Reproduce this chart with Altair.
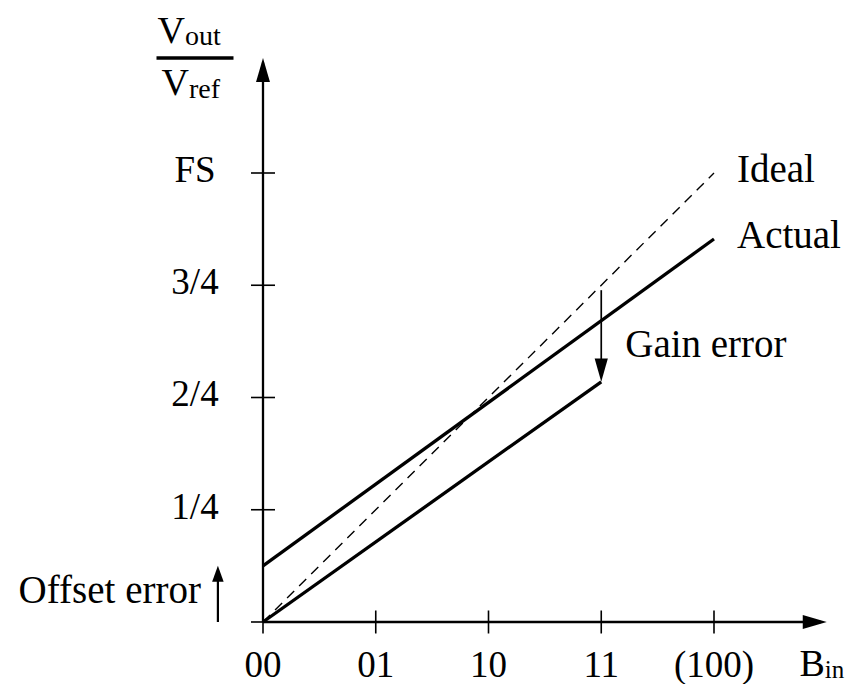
import altair as alt
import pandas as pd

FONT = "Liberation Serif"

# ---- data ----
x_codes = ["00", "01", "10", "11", "(100)"]
x_steps = [0, 1, 2, 3, 4]
y_labels = ["1/4", "2/4", "3/4", "FS"]
y_levels = [0.25, 0.5, 0.75, 1.0]

ideal_x = [0, 4]
ideal_y = [0.0, 1.0]
actual_x = [0, 4]
actual_y = [0.125, 0.853]
shifted_x = [0, 3]
shifted_y = [0.0, 0.535]

gain_x = 3
gain_from = 0.739
gain_to = 0.535
offset_x = -0.4
offset_from = 0.0
offset_to = 0.125

x_axis_end = 5.0
y_axis_end = 1.256

X_DOM = [-2.3326, 5.2151]
Y_DOM = [-0.1381, 1.3853]


def X(field="x"):
    return alt.X(f"{field}:Q", scale=alt.Scale(domain=X_DOM, nice=False, zero=False), axis=None)


def Y(field="y"):
    return alt.Y(f"{field}:Q", scale=alt.Scale(domain=Y_DOM, nice=False, zero=False), axis=None)


layers = []

# lines
layers.append(alt.Chart(pd.DataFrame({"x": ideal_x, "y": ideal_y})).mark_line(
    color="black", strokeWidth=1.4, strokeDash=[10, 7]).encode(x=X(), y=Y()))
layers.append(alt.Chart(pd.DataFrame({"x": actual_x, "y": actual_y})).mark_line(
    color="black", strokeWidth=3.3).encode(x=X(), y=Y()))
layers.append(alt.Chart(pd.DataFrame({"x": shifted_x, "y": shifted_y})).mark_line(
    color="black", strokeWidth=3.3).encode(x=X(), y=Y()))

# axes
layers.append(alt.Chart(pd.DataFrame({"x": [0], "x2": [x_axis_end - 0.05], "y": [0]})).mark_rule(
    color="black", strokeWidth=2.3).encode(x=X(), x2="x2:Q", y=Y()))
layers.append(alt.Chart(pd.DataFrame({"x": [0], "y": [0], "y2": [y_axis_end - 0.01]})).mark_rule(
    color="black", strokeWidth=2.3).encode(x=X(), y=Y(), y2="y2:Q"))

# ticks
layers.append(alt.Chart(pd.DataFrame({"x": x_steps, "y": [0] * len(x_steps)})).mark_tick(
    orient="vertical", size=23, thickness=1.6, color="black", opacity=1).encode(x=X(), y=Y()))
layers.append(alt.Chart(pd.DataFrame({"x": [0] * (len(y_levels) + 1), "y": [0.0] + y_levels})).mark_tick(
    orient="horizontal", size=24, thickness=1.6, color="black", opacity=1).encode(x=X(), y=Y()))

# axis arrowheads
layers.append(alt.Chart(pd.DataFrame({"x": [x_axis_end], "y": [0]})).mark_point(
    shape="M0,0 L-2,-0.58 L-2,0.58 Z", size=576, filled=True, fill="black", strokeWidth=0, opacity=1
).encode(x=X(), y=Y()))
layers.append(alt.Chart(pd.DataFrame({"x": [0], "y": [y_axis_end]})).mark_point(
    shape="M0,0 L-0.58,2 L0.58,2 Z", size=576, filled=True, fill="black", strokeWidth=0, opacity=1
).encode(x=X(), y=Y()))

# gain error arrow
layers.append(alt.Chart(pd.DataFrame({"x": [gain_x], "y": [gain_from], "y2": [gain_to + 0.02]})).mark_rule(
    color="black", strokeWidth=1.7).encode(x=X(), y=Y(), y2="y2:Q"))
layers.append(alt.Chart(pd.DataFrame({"x": [gain_x], "y": [gain_to]})).mark_point(
    shape="M0,0 L-0.55,-1.95 L0.55,-1.95 Z", size=576, filled=True, fill="black", strokeWidth=0, opacity=1
).encode(x=X(), y=Y()))

# offset error arrow
layers.append(alt.Chart(pd.DataFrame({"x": [offset_x], "y": [offset_from], "y2": [offset_to - 0.02]})).mark_rule(
    color="black", strokeWidth=2.2).encode(x=X(), y=Y(), y2="y2:Q"))
layers.append(alt.Chart(pd.DataFrame({"x": [offset_x], "y": [offset_to]})).mark_point(
    shape="M0,0 L-0.72,2 L0.72,2 Z", size=256, filled=True, fill="black", strokeWidth=0, opacity=1
).encode(x=X(), y=Y()))

# fraction bar of axis title
layers.append(alt.Chart(pd.DataFrame({"x": [0], "y": [y_axis_end]})).mark_tick(
    orient="horizontal", size=77, thickness=3.5, xOffset=-68, color="black", opacity=1).encode(x=X(), y=Y()))


def text_layer(df, size=38, **kw):
    return alt.Chart(df).mark_text(font=FONT, fontSize=size, color="black", baseline="alphabetic", **kw).encode(
        x=X(), y=Y(), text="t:N")


# tick labels
layers.append(text_layer(pd.DataFrame({"x": x_steps, "y": [0] * len(x_steps), "t": x_codes}),
                         size=37, align="center", dy=55))
layers.append(text_layer(pd.DataFrame({"x": [0] * len(y_levels), "y": y_levels, "t": y_labels}),
                         size=37, align="center", dx=-68, dy=9))

# line labels
layers.append(text_layer(pd.DataFrame({"x": [ideal_x[-1], actual_x[-1]], "y": [ideal_y[-1], actual_y[-1]],
                                       "t": ["Ideal", "Actual"]}), size=39, align="left", dx=23, dy=9))
layers.append(text_layer(pd.DataFrame({"x": [gain_x], "y": [(gain_from + gain_to) / 2], "t": ["Gain error"]}),
                         size=39, align="left", dx=24, dy=21))
layers.append(text_layer(pd.DataFrame({"x": [offset_x], "y": [(offset_from + offset_to) / 2], "t": ["Offset error"]}),
                         size=39, align="right", dx=-17, dy=9))

# axis titles
layers.append(text_layer(pd.DataFrame({"x": [x_axis_end], "y": [0], "t": ["B"]}), align="right", dx=-2, dy=54))
layers.append(text_layer(pd.DataFrame({"x": [x_axis_end], "y": [0], "t": ["in"]}), size=25, align="left", dx=-2, dy=56))
layers.append(text_layer(pd.DataFrame({"x": [0], "y": [y_axis_end], "t": ["V"]}), align="right", dx=-78, dy=-15))
layers.append(text_layer(pd.DataFrame({"x": [0], "y": [y_axis_end], "t": ["out"]}), size=28, align="left", dx=-78, dy=-13))
layers.append(text_layer(pd.DataFrame({"x": [0], "y": [y_axis_end], "t": ["V"]}), align="right", dx=-74, dy=37))
layers.append(text_layer(pd.DataFrame({"x": [0], "y": [y_axis_end], "t": ["ref"]}), size=28, align="left", dx=-74, dy=40))

chart = alt.layer(*layers).properties(
    width=851, height=684, padding=0, autosize=alt.AutoSizeParams(type="none"), background="white"
).configure_view(strokeWidth=0)

chart.save("out.html", embed_options={"renderer": "svg", "actions": False})
